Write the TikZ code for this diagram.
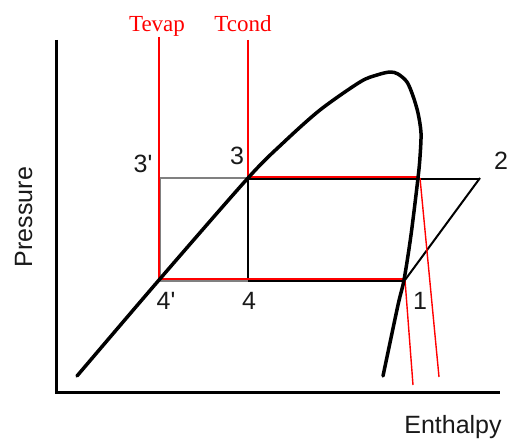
\documentclass[tikz,border=0pt]{standalone}
\usepackage{fontspec}
\setmainfont{Liberation Serif}
\newfontfamily\arialfont{Liberation Sans}
\begin{document}
\begin{tikzpicture}[x=1pt,y=-1pt,
  axis/.style={line width=3pt,black},
  dome/.style={line width=3.5pt,black,line cap=round,line join=round},
  greyline/.style={line width=2pt,black!50},
  blackline/.style={line width=2pt,black},
  redline/.style={line width=1.4pt,red},
  lbl/.style={font=\arialfont\fontsize{25}{25}\selectfont,text=black!90,inner sep=0pt,anchor=base},
  tlbl/.style={font=\fontsize{23}{23}\selectfont,text=red,inner sep=0pt,anchor=base}]
\useasboundingbox (0,0) rectangle (509,441);
% points
\coordinate (p3) at (248,178);
\coordinate (p3p) at (159,178);
\coordinate (p4) at (248,280);
\coordinate (p4p) at (159,280);
\coordinate (p1) at (405,280);
\coordinate (p2) at (480,178);
\coordinate (sv) at (419,178);
\coordinate (ev) at (159,37);
\coordinate (cd) at (248,40);
\coordinate (r1b) at (439,377);
\coordinate (r2b) at (413,385);
\coordinate (ax0) at (56,392);
\coordinate (axy) at (56,40);
\coordinate (axx) at (500,392);
% axes
\draw[axis] (axy) -- (ax0) -- (axx);
% grey rectangle
\draw[greyline] (p3p) -- (p3);
\draw[greyline] ([xshift=1pt]p3p) -- ([xshift=1pt]p4p);
\draw[greyline] ([yshift=-1pt]p4p) -- ([yshift=-1pt]p4);
% black cycle lines
\draw[blackline] (p3) -- (p4);
\draw[blackline] ([yshift=-1pt]p4) -- ([yshift=-1pt]p1);
\draw[blackline] ([yshift=-1pt]p3) -- ([yshift=-1pt]p2);
\draw[blackline] (p1) -- (p2);
% red lines
\draw[redline] (ev) -- (p4p);
\draw[redline] (cd) -- (p3);
\draw[redline] ([yshift=1pt]p4p) -- ([yshift=1pt]p1);
\draw[redline] ([yshift=1pt]p3) -- ([yshift=1pt]sv);
\draw[redline] ([xshift=1pt]sv) -- (r1b);
\draw[redline] (p1) -- (r2b);
% saturation dome
\draw[dome] plot[smooth,tension=0.5] coordinates {(77,376) (159,280) (248,178) (283,143) (320,110) (360,82) (377,75) (390,72) (398,74) (407,82) (413,96) (418,113) (421,133) (420,157) (418,178) (411,235) (404,280) (398,305) (383,376)};
% labels
\node[tlbl] (tev) at (157,32) {Tevap};
\node[tlbl] (tcd) at (243,32) {Tcond};
\node[lbl] (l3p) at (143,173) {3'};
\node[lbl] (l3) at (237,165) {3};
\node[lbl] (l4p) at (166,309) {4'};
\node[lbl] (l4) at (249,309) {4};
\node[lbl] (l1) at (420,309) {1};
\node[lbl] (l2) at (501,170) {2};
\node[lbl] (lh) at (453,433) {Enthalpy};
\node[lbl,rotate=90] (lp) at (32,217) {Pressure};
\end{tikzpicture}
\end{document}
